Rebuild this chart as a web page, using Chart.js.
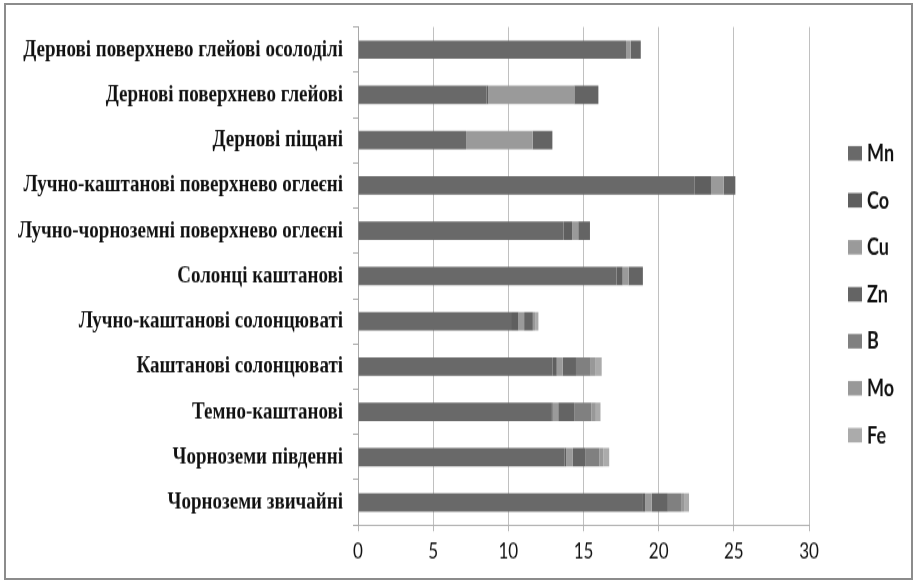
<!DOCTYPE html>
<html>
<head>
<meta charset="utf-8">
<script src="https://cdn.jsdelivr.net/npm/chart.js@4/dist/chart.umd.min.js"></script>
<style>
  html, body { margin: 0; padding: 0; background: #ffffff; }
  #wrap { position: relative; width: 918px; height: 581px; overflow: hidden; }
  #frame { position: absolute; left: 4px; top: 3px; width: 909px; height: 577px;
           box-sizing: border-box; border: 2px solid #8c8c8c; pointer-events: none; }
  #chart { position: absolute; left: 0; top: 0; }
</style>
</head>
<body>
<div id="wrap">
  <!-- the drawing surface is 465px high and shown 581px high (tall, narrow lettering) -->
  <canvas id="chart" width="918" height="465" style="width:918px;height:581px"></canvas>
  <div id="frame"></div>
</div>
<script>
// Soil types, top to bottom
const categories = [
  'Дернові поверхнево глейові осолоділі',
  'Дернові поверхнево глейові',
  'Дернові піщані',
  'Лучно-каштанові поверхнево оглеєні',
  'Лучно-чорноземні поверхнево оглеєні',
  'Солонці каштанові',
  'Лучно-каштанові солонцюваті',
  'Каштанові солонцюваті',
  'Темно-каштанові',
  'Чорноземи південні',
  'Чорноземи звичайні'
];

// Trace element content per soil type
const mn = [17.83, 8.54, 7.19, 22.4, 13.67, 17.2, 10.18, 12.95, 12.85, 13.75, 18.9];
const co = [0, 0.13, 0, 1.08, 0.58, 0.4, 0.49, 0.27, 0.1, 0.1, 0.2];
const cu = [0.31, 5.72, 4.43, 0.84, 0.4, 0.4, 0.38, 0.4, 0.37, 0.44, 0.44];
const zn = [0.67, 1.6, 1.31, 0.78, 0.78, 0.95, 0.58, 0.88, 1.06, 0.82, 1.07];
const b  = [0, 0, 0, 0, 0, 0, 0, 0.98, 1.15, 0.95, 0.88];
const mo = [0, 0, 0, 0, 0, 0, 0.15, 0.29, 0.29, 0.27, 0.2];
const fe = [0, 0, 0, 0, 0, 0, 0.22, 0.44, 0.31, 0.38, 0.33];

const xTicks = [0, 5, 10, 15, 20, 25, 30];

const seriesNames = ['Mn', 'Co', 'Cu', 'Zn', 'B', 'Mo', 'Fe'];
const seriesValues = [mn, co, cu, zn, b, mo, fe];
const seriesColors = ['#696969', '#5f5f5f', '#9a9a9a', '#646464', '#808080', '#989898', '#ababab'];

const datasets = seriesNames.map((name, i) => ({
  label: name,
  data: seriesValues[i],
  backgroundColor: seriesColors[i],
  borderWidth: 0,
  categoryPercentage: 1,
  barPercentage: 0.405
}));

// Legend drawn as a column of squares on the right side
const sideLegend = {
  id: 'sideLegend',
  afterDraw(chart) {
    const ctx = chart.ctx;
    const boxX = 848, boxW = 14, boxH = 11.6, textX = 867;
    const firstY = 122.7, stepY = 37.6;
    ctx.save();
    ctx.font = 'bold 18px Lato';
    ctx.textBaseline = 'middle';
    ctx.textAlign = 'left';
    chart.data.datasets.forEach((ds, i) => {
      const cy = firstY + i * stepY;
      ctx.fillStyle = ds.backgroundColor;
      ctx.fillRect(boxX, cy - boxH / 2, boxW, boxH);
      ctx.fillStyle = '#111111';
      ctx.fillText(ds.label, textX, cy + 0.5);
    });
    ctx.restore();
  }
};

new Chart(document.getElementById('chart'), {
  type: 'bar',
  data: { labels: categories, datasets },
  options: {
    indexAxis: 'y',
    responsive: false,
    animation: false,
    events: [],
    layout: { padding: { left: 0, right: 109, top: 21.6, bottom: 0 } },
    plugins: {
      legend: { display: false },
      tooltip: { enabled: false }
    },
    scales: {
      x: {
        stacked: true,
        min: 0,
        max: 30,
        afterBuildTicks: s => { s.ticks = xTicks.map(v => ({ value: v })); },
        afterFit: s => { s.height = 44.8; },
        grid: { color: '#c0c0c0', lineWidth: 1, drawTicks: true, tickLength: 5, tickColor: '#b8b8b8' },
        border: { color: '#b0b0b0', width: 1 },
        ticks: { color: '#111111', padding: 6, font: { family: 'Lato', size: 17 } }
      },
      y: {
        stacked: true,
        afterFit: s => { s.width = 358; },
        grid: { drawOnChartArea: false, drawTicks: true, tickLength: 5, tickColor: '#a8a8a8', offset: true },
        border: { color: '#a8a8a8', width: 1 },
        ticks: { color: '#111111', padding: 10, font: { family: 'Liberation Serif', size: 19, weight: 'bold' } }
      }
    }
  },
  plugins: [sideLegend]
});
</script>
</body>
</html>
